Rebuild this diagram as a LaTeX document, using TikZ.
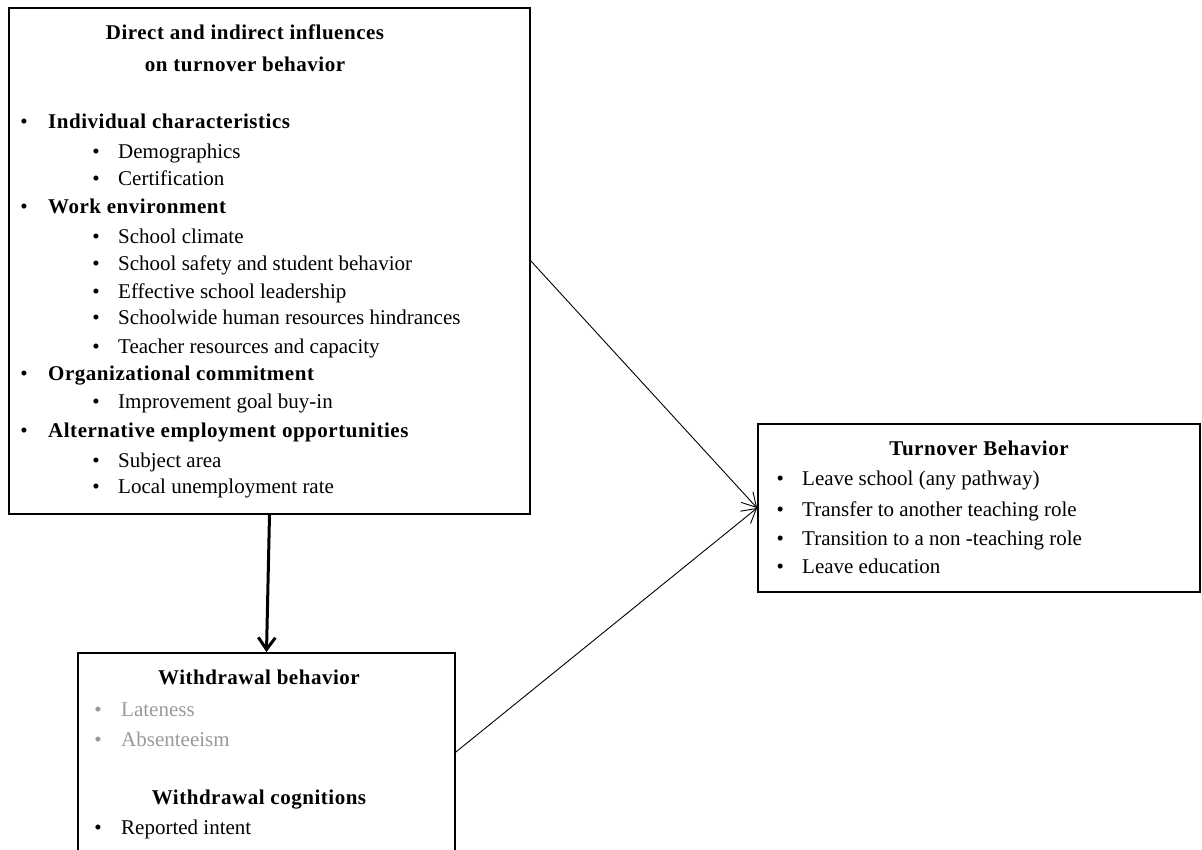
\documentclass[tikz,border=0pt]{standalone}
\usepackage{fontspec}
\setmainfont{Liberation Serif}[BoldFeatures={LetterSpace=2.5}]
\usetikzlibrary{arrows.meta}
\definecolor{muted}{HTML}{999999}
\newcommand{\blt}[1][26bp]{\makebox[#1][l]{\textbullet}}

\begin{document}
\begin{tikzpicture}[x=1bp,y=-1bp,
  every node/.style={font=\fontsize{21bp}{26bp}\selectfont,inner sep=0pt},
  frame/.style={draw,rectangle,line width=1.8bp},
  head/.style={font=\fontsize{21bp}{26bp}\selectfont\bfseries,anchor=base},
  entry/.style={anchor=base west},
  faint/.style={anchor=base west,text=muted},
  thin/.style={-{Straight Barb[length=14bp,width=16bp]},line width=0.9bp},
  heavy/.style={-{Straight Barb[length=12bp,width=17bp]},line width=3bp}]
\useasboundingbox (0,0) rectangle (1202,850);
% boxes
\node[frame,minimum width=521bp,minimum height=506bp] (infl) at (269.5,261) {};
\node[frame,minimum width=377bp,minimum height=198bp] (wdraw) at (266.5,752) {};
\node[frame,minimum width=442bp,minimum height=168bp] (turn) at (979,508) {};
% influences
\node[head] (inflA) at (245,39) {Direct and indirect influences};
\node[head] (inflB) at (245,71) {on turnover behavior};
\node[entry] (ic) at (20.3,128) {\blt[27.7bp]\textbf{Individual characteristics}};
\node[entry] (ic1) at (92.3,158) {\blt[25.7bp]Demographics};
\node[entry] (ic2) at (92.3,185) {\blt[25.7bp]Certification};
\node[entry] (we) at (20.3,213) {\blt[27.7bp]\textbf{Work environment}};
\node[entry] (we1) at (92.3,243) {\blt[25.7bp]School climate};
\node[entry] (we2) at (92.3,270) {\blt[25.7bp]School safety and student behavior};
\node[entry] (we3) at (92.3,298) {\blt[25.7bp]Effective school leadership};
\node[entry] (we4) at (92.3,324) {\blt[25.7bp]Schoolwide human resources hindrances};
\node[entry] (we5) at (92.3,353) {\blt[25.7bp]Teacher resources and capacity};
\node[entry] (oc) at (20.3,380) {\blt[27.7bp]\textbf{Organizational commitment}};
\node[entry] (oc1) at (92.3,408) {\blt[25.7bp]Improvement goal buy-in};
\node[entry] (ae) at (20.3,437) {\blt[27.7bp]\textbf{Alternative employment opportunities}};
\node[entry] (ae1) at (92.3,467) {\blt[25.7bp]Subject area};
\node[entry] (ae2) at (92.3,493) {\blt[25.7bp]Local unemployment rate};
% withdrawal
\node[head] (wbh) at (259,684) {Withdrawal behavior};
\node[faint] (wb1) at (94.3,716) {\blt[26.7bp]Lateness};
\node[faint] (wb2) at (94.3,746) {\blt[26.7bp]Absenteeism};
\node[head] (wch) at (259,804) {Withdrawal cognitions};
\node[entry] (wc1) at (94.3,834) {\blt[26.7bp]Reported intent};
% turnover
\node[head] (tbh) at (979,455) {Turnover Behavior};
\node[entry] (tb1) at (776.3,485) {\blt[25.7bp]Leave school (any pathway)};
\node[entry] (tb2) at (776.3,516) {\blt[25.7bp]Transfer to another teaching role};
\node[entry] (tb3) at (776.3,545) {\blt[25.7bp]Transition to a non -teaching role};
\node[entry] (tb4) at (776.3,573) {\blt[25.7bp]Leave education};
% connectors
\draw[heavy] (infl.south) -- (wdraw.north);
\draw[thin] (infl.east) -- (turn.west);
\draw[thin] (wdraw.east) -- (turn.west);
\end{tikzpicture}
\end{document}
